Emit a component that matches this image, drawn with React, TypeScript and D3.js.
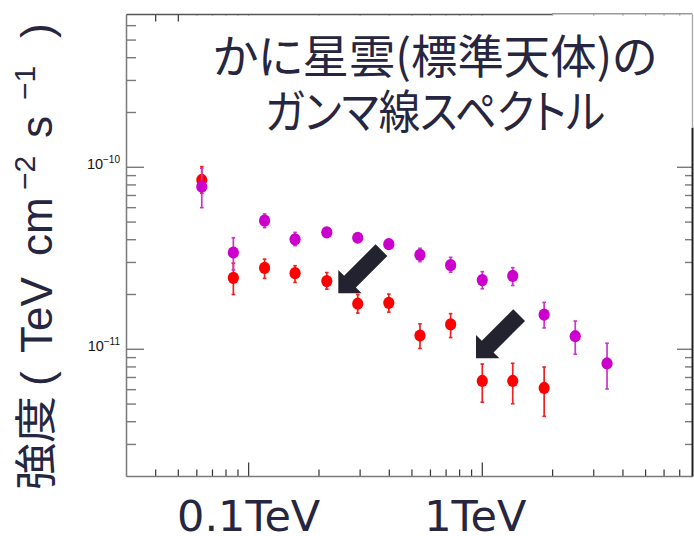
import React from 'react';
import * as d3 from 'd3';

// ---- data ----
const energyMagenta = [0.063, 0.086, 0.117, 0.158, 0.216, 0.293, 0.398, 0.541, 0.732, 1.0, 1.35, 1.84, 2.5, 3.42];
const fluxMagenta = [7.82e-11, 3.4e-11, 5.09e-11, 4.02e-11, 4.39e-11, 4.1e-11, 3.78e-11, 3.3e-11, 2.9e-11, 2.4e-11, 2.53e-11, 1.55e-11, 1.18e-11, 8.36e-12];
const fluxMagentaHi = [9.87e-11, 4.1e-11, 5.54e-11, 4.39e-11, 4.56e-11, 4.26e-11, 3.95e-11, 3.59e-11, 3.2e-11, 2.67e-11, 2.81e-11, 1.81e-11, 1.43e-11, 1.08e-11];
const fluxMagentaLo = [6.0e-11, 2.73e-11, 4.66e-11, 3.71e-11, 4.23e-11, 3.95e-11, 3.61e-11, 3.03e-11, 2.65e-11, 2.15e-11, 2.24e-11, 1.31e-11, 9.39e-12, 6.05e-12];

const energyRed = [0.063, 0.086, 0.117, 0.158, 0.216, 0.293, 0.398, 0.541, 0.732, 1.0, 1.35, 1.84];
const fluxRed = [8.52e-11, 2.47e-11, 2.8e-11, 2.62e-11, 2.37e-11, 1.78e-11, 1.8e-11, 1.19e-11, 1.37e-11, 6.7e-12, 6.7e-12, 6.13e-12];
const fluxRedHi = [1.008e-10, 2.97e-11, 3.13e-11, 2.88e-11, 2.64e-11, 2.0e-11, 2.01e-11, 1.38e-11, 1.57e-11, 8.3e-12, 8.38e-12, 7.99e-12];
const fluxRedLo = [7.2e-11, 2.0e-11, 2.45e-11, 2.33e-11, 2.14e-11, 1.58e-11, 1.6e-11, 1.01e-11, 1.16e-11, 5.12e-12, 5.02e-12, 4.28e-12];

const xTickValues = [0.1, 1];
const xTickLabels = ['0.1TeV', '1TeV'];
const yTickValues = [1e-10, 1e-11];
const yTickExponents = ['−10', '−11'];

const titleLines = ['かに星雲(標準天体)の', 'ガンマ線スペクトル'];
const yTitleMain = '強度';

// arrow annotations (tip in data space)
const arrowTipEnergy = [0.242, 0.94];
const arrowTipFlux = [2.03e-11, 8.92e-12];

// ---- layout ----
const W = 694;
const H = 536;
const L = 126.5, R = 692.5, T = 14.5, B = 476.5;

const x = d3.scaleLog().domain([0.03, 7.94]).range([L, R]);
const y = d3.scaleLog().domain([2e-12, 6.91e-10]).range([B, T]);

const navy = '#262640';
const axisGray = '#7a7a7a';

function minorTicks(lo: number, hi: number, startDecade: number, endDecade: number) {
  const out: { v: number; major: boolean }[] = [];
  for (let e = startDecade; e <= endDecade; e++) {
    for (let m = 1; m <= 9; m++) {
      const v = m * Math.pow(10, e);
      if (v > lo * 1.0001 && v < hi * 0.9999) out.push({ v, major: m === 1 });
    }
  }
  return out;
}

function Arrow({ tx, ty }: { tx: number; ty: number }) {
  const hl = 16.5, hw = 16.5, sw = 8.3, len = 61;
  const pts: [number, number][] = [
    [0, 0], [-hl, -hw], [-hl, -sw], [-len, -sw], [-len, sw], [-hl, sw], [-hl, hw],
  ];
  return (
    <polygon
      points={pts.map((p) => p.join(',')).join(' ')}
      transform={`translate(${tx},${ty}) rotate(135)`}
      fill="#23222f"
    />
  );
}

function Series({ en, f, hi, lo, fill, err }: { en: number[]; f: number[]; hi: number[]; lo: number[]; fill: string; err: string }) {
  return (
    <g>
      {en.map((e, i) => {
        const cx = x(e);
        return (
          <g key={i}>
            <line x1={cx} x2={cx} y1={y(hi[i])} y2={y(lo[i])} stroke={err} strokeWidth={1.7} />
            <line x1={cx - 1.8} x2={cx + 1.8} y1={y(hi[i])} y2={y(hi[i])} stroke={err} strokeWidth={1.6} />
            <line x1={cx - 1.8} x2={cx + 1.8} y1={y(lo[i])} y2={y(lo[i])} stroke={err} strokeWidth={1.6} />
            <ellipse cx={cx} cy={y(f[i])} rx={5.6} ry={6.1} fill={fill} />
          </g>
        );
      })}
    </g>
  );
}

export default function App() {
  const xt = minorTicks(0.03, 7.94, -2, 0);
  const yt = minorTicks(2e-12, 6.91e-10, -12, -10);
  const latin = "'Liberation Sans', Arial, sans-serif";
  return (
    <svg
      width={W}
      height={H}
      viewBox={`0 0 ${W} ${H}`}
      style={{ position: 'absolute', left: 0, top: 0, background: '#fff' }}
    >
      <rect x={0} y={0} width={W} height={H} fill="#fff" />

      {/* ticks */}
      {xt.map((t, i) => (
        <g key={'xt' + i} stroke="#333" strokeWidth={1.2}>
          <line x1={x(t.v)} x2={x(t.v)} y1={B} y2={B - (t.major ? 14 : 7)} />
          <line x1={x(t.v)} x2={x(t.v)} y1={T} y2={T + (t.major ? 14 : 7)} />
        </g>
      ))}
      {yt.map((t, i) => (
        <g key={'yt' + i} stroke={axisGray} strokeWidth={1.4}>
          <line x1={L} x2={L + (t.major ? 17.5 : 9.5)} y1={y(t.v)} y2={y(t.v)} />
          <line x1={R} x2={R - (t.major ? 15.5 : 7.5)} y1={y(t.v)} y2={y(t.v)} />
        </g>
      ))}

      {/* frame */}
      <line x1={L} x2={L} y1={T} y2={B} stroke={axisGray} strokeWidth={1.5} />
      <line x1={L} x2={R} y1={B} y2={B} stroke={axisGray} strokeWidth={1.5} />
      <line x1={R} x2={R} y1={127.5} y2={B} stroke="#222" strokeWidth={2} />

      {/* title overlay box */}
      <rect x={188} y={T + 0.8} width={R - 188 + 1} height={127.5 - T - 0.8} fill="#fff" />
      <line x1={R} x2={R} y1={T} y2={127.5} stroke="#aaa" strokeWidth={1.4} />
      <line x1={L} x2={552} y1={T} y2={T} stroke="#555" strokeWidth={1.4} />
      <line x1={552} x2={R} y1={T - 0.8} y2={T - 0.8} stroke="#999" strokeWidth={1.4} />

      {/* data */}
      <Series en={energyRed} f={fluxRed} hi={fluxRedHi} lo={fluxRedLo} fill="#ff0000" err="#ee2222" />
      <Series en={energyMagenta} f={fluxMagenta} hi={fluxMagentaHi} lo={fluxMagentaLo} fill="#cc00cc" err="#cc33cc" />

      {/* arrows */}
      {arrowTipEnergy.map((e, i) => (
        <Arrow key={'ar' + i} tx={x(e)} ty={y(arrowTipFlux[i])} />
      ))}

      {/* y tick labels */}
      {yTickValues.map((v, i) => (
        <text
          key={'yl' + i}
          x={120}
          y={y(v) + 1.5}
          textAnchor="end"
          fontFamily={latin}
          fontSize={14.5}
          fill="#111"
        >
          10
          <tspan dy={-5.5} fontSize={10}>{yTickExponents[i]}</tspan>
        </text>
      ))}

      {/* x tick labels */}
      {xTickValues.map((v, i) => (
        <text
          key={'xl' + i}
          x={x(v) + (i === 1 ? -7 : 0)}
          y={531}
          textAnchor="middle"
          fontFamily="'DejaVu Sans', Verdana, sans-serif"
          fontSize={43}
          fill={navy}
        >
          {xTickLabels[i]}
        </text>
      ))}

      {/* title */}
      {titleLines.map((s, i) => (
        <text
          key={'tl' + i}
          x={435}
          y={73 + i * 55}
          textAnchor="middle"
          fontFamily="'Noto Sans CJK JP', sans-serif"
          fontSize={46}
          fill={navy}
          textLength={i === 0 ? 444 : 340}
          lengthAdjust="spacingAndGlyphs"
          style={{ fontFeatureSettings: '"palt"' }}
        >
          {s}
        </text>
      ))}

      {/* y axis title (rotated) */}
      <g transform="translate(52,490) rotate(-90)" fill={navy}>
        <text transform="scale(1.12,1)" x={0} y={-1} fontFamily="'Noto Sans CJK JP', sans-serif" fontSize={42}>
          {yTitleMain}
        </text>
        <text fontFamily={latin} fontSize={44}>
          <tspan x={104} y={0}>(</tspan>
          <tspan x={137} y={0}>TeV</tspan>
          <tspan x={234} y={0}>cm</tspan>
          <tspan x={300} y={-17} fontSize={30}>−2</tspan>
          <tspan x={352} y={0}>s</tspan>
          <tspan x={390} y={-17} fontSize={30}>−1</tspan>
          <tspan x={452} y={0}>)</tspan>
        </text>
      </g>
    </svg>
  );
}
